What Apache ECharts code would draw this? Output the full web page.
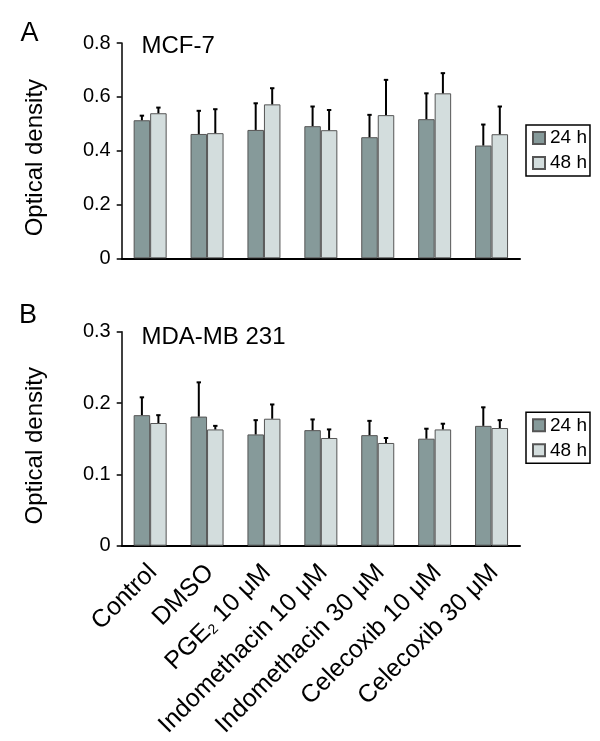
<!DOCTYPE html>
<html>
<head>
<meta charset="utf-8">
<script src="https://cdn.jsdelivr.net/npm/echarts@6/dist/echarts.min.js"></script>
<style>
html,body{margin:0;padding:0;background:#fff;}
#c{width:600px;height:741px;}
</style>
</head>
<body>
<div id="c"></div>
<script>
// ---- data ----
const categories = ['Control', 'DMSO', 'PGE2 10 μM', 'Indomethacin 10 μM', 'Indomethacin 30 μM', 'Celecoxib 10 μM', 'Celecoxib 30 μM'];
const seriesNames = ['24 h', '48 h'];

// Panel A: MCF-7
const mcf24 = [0.513, 0.462, 0.477, 0.491, 0.450, 0.517, 0.419];
const mcf24Sd = [0.017, 0.086, 0.099, 0.073, 0.083, 0.096, 0.078];
const mcf48 = [0.539, 0.465, 0.572, 0.476, 0.532, 0.613, 0.461];
const mcf48Sd = [0.021, 0.089, 0.060, 0.075, 0.131, 0.075, 0.103];

// Panel B: MDA-MB 231
const mda24 = [0.183, 0.181, 0.156, 0.162, 0.155, 0.150, 0.168];
const mda24Sd = [0.025, 0.048, 0.020, 0.015, 0.020, 0.014, 0.026];
const mda48 = [0.172, 0.163, 0.178, 0.151, 0.144, 0.163, 0.165];
const mda48Sd = [0.011, 0.005, 0.020, 0.012, 0.007, 0.008, 0.011];

const yTicksA = {min: 0, max: 0.8, interval: 0.2};
const yTicksB = {min: 0, max: 0.3, interval: 0.1};

// ---- styles ----
const FONT = 'Liberation Sans, Arial, Helvetica, sans-serif';
const C24 = '#869a9a';
const C48 = '#d3dddd';
const BORDER = '#555';
const BARW = 0.29;

function errData(means, sds) {
  return means.map((m, i) => [i, m, sds[i]]);
}
function errRender(sign) {
  return function (params, api) {
    const i = api.value(0), m = api.value(1), sd = api.value(2);
    const band = api.size([1, 0])[0];
    const base = api.coord([i, m]);
    const top = api.coord([i, m + sd]);
    const x = base[0] + sign * band * BARW / 2;
    return {
      type: 'group',
      children: [
        {type: 'line', shape: {x1: x, y1: base[1], x2: x, y2: top[1]}, style: {stroke: '#000', lineWidth: 2}},
        {type: 'line', shape: {x1: x - 2.2, y1: top[1], x2: x + 2.2, y2: top[1]}, style: {stroke: '#000', lineWidth: 2}}
      ]
    };
  };
}

const gridLeft = 121.7, gridW = 398.3;

function yAxisCfg(idx, ticks) {
  return {
    type: 'value', gridIndex: idx, min: ticks.min, max: ticks.max, interval: ticks.interval,
    splitLine: {show: false},
    axisLine: {show: true, lineStyle: {color: '#000', width: 1.5}},
    axisTick: {show: true, length: 5, lineStyle: {color: '#000', width: 1.5}},
    axisLabel: {color: '#000', fontSize: 20, fontFamily: FONT, margin: 11},
    name: 'Optical density', nameLocation: 'middle', nameGap: 74,
    nameTextStyle: {color: '#000', fontSize: 24, fontFamily: FONT, padding: [0, 14, 0, 0]}
  };
}
function xAxisCfg(idx, showLabels) {
  return {
    type: 'category', gridIndex: idx, data: categories,
    axisLine: {show: true, lineStyle: {color: '#000', width: 2}},
    axisTick: {show: false},
    axisLabel: showLabels ? {
      show: true, interval: 0, rotate: 45, margin: 20, color: '#000', fontSize: 25, fontFamily: FONT,
      padding: [8, 0, 0, 0],
      formatter: v => v.replace('PGE2', 'PGE{sub|2}'),
      rich: {sub: {fontSize: 14, fontFamily: FONT, color: '#000', verticalAlign: 'bottom'}}
    } : {show: false}
  };
}
function barSeries(name, axisIdx, data, color) {
  return {
    type: 'bar', name: name, xAxisIndex: axisIdx, yAxisIndex: axisIdx, data: data,
    barWidth: (BARW * 100) + '%', barGap: '0%',
    itemStyle: {color: color, borderColor: BORDER, borderWidth: 1},
    emphasis: {disabled: true}
  };
}
function errSeries(axisIdx, means, sds, sign) {
  return {
    type: 'custom', name: 'err', xAxisIndex: axisIdx, yAxisIndex: axisIdx,
    data: errData(means, sds), encode: {x: 0, y: 1},
    renderItem: errRender(sign), z: 5, silent: true
  };
}
function legendCfg(top) {
  return {
    data: seriesNames, orient: 'vertical', left: 526, top: top,
    itemWidth: 12, itemHeight: 12, itemGap: 5, icon: 'rect',
    padding: [3, 3, 3, 6], borderColor: '#000', borderWidth: 1.5,
    textStyle: {color: '#000', fontSize: 19, fontFamily: FONT, lineHeight: 20},
    selectedMode: false
  };
}
const titleStyle = (sz) => ({color: '#000', fontSize: sz, fontFamily: FONT, fontWeight: 'normal'});

const chart = echarts.init(document.getElementById('c'), null, {renderer: 'canvas'});
chart.setOption({
  animation: false,
  backgroundColor: '#fff',
  title: [
    {text: 'A', left: 20.5, top: 20.5, padding: 0, textStyle: titleStyle(27)},
    {text: 'MCF-7', left: 141.5, top: 34, padding: 0, textStyle: titleStyle(24)},
    {text: 'B', left: 19, top: 302.5, padding: 0, textStyle: titleStyle(27)},
    {text: 'MDA-MB 231', left: 141.5, top: 325, padding: 0, textStyle: titleStyle(24)}
  ],
  legend: [legendCfg(125), legendCfg(412.3)],
  grid: [
    {left: gridLeft, top: 43, width: gridW, height: 215.3, containLabel: false, outerBoundsMode: 'none'},
    {left: gridLeft, top: 331.7, width: gridW, height: 214, containLabel: false, outerBoundsMode: 'none'}
  ],
  xAxis: [xAxisCfg(0, false), xAxisCfg(1, true)],
  yAxis: [yAxisCfg(0, yTicksA), yAxisCfg(1, yTicksB)],
  series: [
    barSeries(seriesNames[0], 0, mcf24, C24),
    barSeries(seriesNames[1], 0, mcf48, C48),
    errSeries(0, mcf24, mcf24Sd, -1),
    errSeries(0, mcf48, mcf48Sd, 1),
    barSeries(seriesNames[0], 1, mda24, C24),
    barSeries(seriesNames[1], 1, mda48, C48),
    errSeries(1, mda24, mda24Sd, -1),
    errSeries(1, mda48, mda48Sd, 1)
  ]
});
</script>
</body>
</html>
